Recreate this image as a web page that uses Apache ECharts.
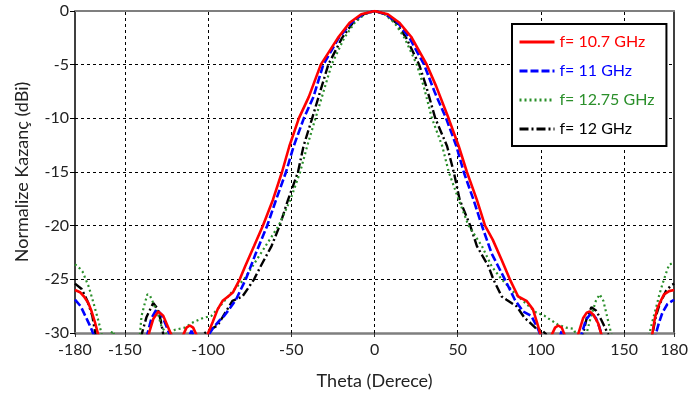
<!DOCTYPE html>
<html>
<head>
<meta charset="utf-8">
<script src="https://cdn.jsdelivr.net/npm/echarts@6/dist/echarts.min.js"></script>
<style>
  html, body { margin: 0; padding: 0; background: #fff; }
  #chart { width: 691px; height: 400px; }
</style>
</head>
<body>
<div id="chart"></div>
<script>
// Normalised gain patterns (dBi) versus theta (degrees) for four frequencies.
// Values below the -30 dB floor dip under the plot and are clipped.
const seriesNames = ['f= 10.7 GHz', 'f= 11 GHz', 'f= 12.75 GHz', 'f= 12 GHz'];

const thetaA = [-180, -177, -174.6, -172, -170, -168, -166, -163, -139, -135.5, -133, -130, -127, -124.5, -122, -119, -117, -115, -113, -111, -109, -107, -105, -102,
  -100, -97.3, -94.3, -91.3, -88, -85, -81, -77.8, -72.4, -67.1, -61.1, -55.6, -51.2, -45.5, -39.5, -32.3, -22, -15, -8, 0,
  8, 15, 22, 31.4, 37, 44.5, 50.6, 55.5, 61.5, 66.4, 71, 76.4, 81.3, 86.3, 91.3, 95.2, 97.6, 99.5, 102, 104, 106.4, 108.5, 110.4, 112.5, 114.3, 117,
  120, 122.4, 125.4, 127.5, 129.3, 131.5, 134.4, 136.4, 139, 164, 167, 168.5, 170, 172, 174, 177, 180];
const gainA = [-26.0, -26.2, -26.6, -27.2, -28.0, -29.0, -30.2, -33, -33, -30.0, -28.7, -28.0, -28.4, -29.3, -30.2, -33, -33, -30.2, -29.5, -29.3, -29.5, -30.2, -33, -33,
  -30, -29.0, -27.8, -27.0, -26.6, -26.2, -25.0, -23.8, -21.9, -20.0, -17.6, -15.0, -12.6, -10.0, -8.0, -5.0, -2.5, -1.1, -0.3, 0,
  -0.3, -1.1, -2.4, -5.0, -7.0, -10.0, -12.6, -15.0, -17.6, -20.0, -21.3, -23.2, -25.0, -26.6, -27.0, -27.8, -29.0, -30.0, -33, -33, -30.2, -29.5, -29.3, -29.5, -30.2, -33,
  -33, -30.1, -28.6, -28.1, -28.0, -28.3, -29.1, -30.2, -33, -33, -30.0, -28.6, -27.7, -27.0, -26.4, -26.1, -26.0];

const thetaB = [-180, -176.6, -172.6, -170.5, -168.7, -166, -139, -136.5, -134, -131, -128, -125.5, -123, -120, -114, -112, -110, -108, -105, -101,
  -99, -97.3, -93, -90.3, -86.5, -83.3, -77.4, -71.4, -64.5, -59.2, -53.2, -48.6, -42.5, -36.7, -30.8, -21.5, -14, -7, 0,
  7, 14, 21, 29.8, 36, 43, 49.2, 53.6, 59.5, 64.5, 70.4, 78.3, 84.3, 89.3, 94.2, 98.2, 100, 102, 109, 111, 112.5, 114, 117,
  122, 124.4, 127, 130.3, 133, 135, 136.4, 139, 166, 169, 171, 173, 176, 180];
const gainB = [-26.9, -27.5, -28.8, -29.5, -30.2, -33, -33, -30.1, -28.6, -27.8, -28.3, -29.2, -30.2, -33, -33, -30.5, -29.8, -30.5, -33, -33,
  -30, -29.6, -28.8, -28.4, -27.6, -26.9, -25.0, -22.6, -20.0, -17.6, -15.0, -12.6, -10.0, -8.0, -5.0, -2.5, -1.1, -0.3, 0,
  -0.3, -1.1, -2.5, -5.0, -7.5, -10.0, -12.6, -15.0, -17.6, -20.0, -22.6, -25.0, -26.9, -28.0, -28.4, -29.6, -30.3, -33, -33, -30.5, -29.8, -30.5, -33,
  -33, -30.1, -28.8, -28.1, -28.6, -29.4, -30.1, -33, -33, -30.1, -29.0, -28.1, -27.3, -26.9];

const thetaC = [-180, -177, -175.4, -171.7, -168.7, -165.7, -164, -162, -159, -157.5, -156, -153, -143, -141, -140, -138, -136.5, -135, -133, -130, -128, -125, -122, -120, -114, -109, -103,
  -98, -92.3, -85.3, -78.4, -73.4, -65.5, -57.6, -50.6, -44.7, -40.5, -35.5, -25.8, -18.2, -12, -6, 0,
  6, 12, 18, 25.4, 29.5, 34.5, 40.7, 44.6, 50.6, 56.5, 64.5, 70.4, 76.4, 84.3, 91.3, 97.2, 102.2, 105, 110, 115, 119.5, 121, 124,
  127.3, 130, 133, 135.3, 137.5, 139.5, 141, 142.3, 145, 162, 165.1, 167, 169.1, 171, 173.1, 175, 177.1, 180];
const gainC = [-23.6, -24.0, -24.3, -25.7, -27.3, -29.0, -30.1, -33, -30.3, -29.8, -30.3, -33, -33, -30.1, -28.4, -27.2, -26.4, -26.5, -27.2, -28.3, -29.4, -30.1, -30.0, -29.7, -29.5, -29.0, -28.6,
  -28.4, -27.4, -26.1, -25.0, -23.8, -21.9, -20.0, -17.6, -15.0, -12.6, -10.0, -5.0, -2.5, -1.1, -0.3, 0,
  -0.3, -1.1, -2.5, -5.0, -7.0, -10.0, -12.6, -15.0, -17.6, -20.0, -21.9, -23.8, -25.0, -26.3, -27.3, -28.1, -28.4, -28.7, -29.2, -29.5, -29.6, -30.1, -33,
  -30.1, -28.5, -27.0, -26.4, -27.0, -28.3, -29.3, -30.1, -33, -33, -30.1, -28.9, -27.7, -26.5, -25.4, -24.5, -23.6, -23.5];

const thetaD = [-180, -176, -172.6, -169.6, -167.7, -165, -142, -139.9, -137, -133, -130.5, -128.5, -127, -124, -106,
  -103, -99, -94.3, -89.7, -85.4, -79.4, -75, -72.4, -68.5, -61.9, -57, -52, -46, -42.7, -37.5, -27.8, -19.5, -13, -6.5, 0,
  6.5, 13, 19, 26.8, 31, 36.5, 43.6, 47.6, 51.2, 57.5, 61.5, 68.5, 71.4, 76.4, 79.3, 85.3, 90.2, 93.2, 97.2, 101, 103, 106,
  122, 125.3, 127.5, 130.3, 133, 136, 138.5, 140.3, 143, 164, 167, 169, 171.1, 175.1, 178, 180];
const gainD = [-25.4, -25.9, -27.0, -28.4, -30.1, -33, -33, -30.1, -28.5, -27.2, -27.7, -28.8, -30.1, -33, -33,
  -30.1, -29.7, -29.3, -28.1, -27.0, -26.6, -25.6, -25.0, -23.8, -21.9, -20.0, -17.6, -15.0, -12.6, -10.0, -5.0, -2.5, -1.1, -0.3, 0,
  -0.3, -1.1, -2.5, -5.0, -7.0, -10.0, -12.6, -15.0, -17.6, -20.0, -21.9, -23.8, -25.0, -26.6, -26.9, -27.5, -28.6, -29.0, -29.6, -29.8, -30.1, -33,
  -33, -30.1, -28.6, -27.6, -27.9, -28.7, -29.5, -30.1, -33, -33, -30.1, -28.5, -27.4, -26.1, -25.6, -25.4];

const xTicks = [-180, -150, -100, -50, 0, 50, 100, 150, 180];
const xGrid = [-150, -100, -50, 0, 50, 100, 150];
const yTicks = [0, -5, -10, -15, -20, -25, -30];

const colors = ['#ff0000', '#0000ff', '#2a8f2a', '#000000'];
const dashes = ['solid', [8, 3], [2, 3], [9, 3, 2, 3]];
const widths = [2.6, 2.6, 2.2, 2.4];
const thetas = [thetaA, thetaB, thetaC, thetaD];
const gains = [gainA, gainB, gainC, gainD];

const FONT = 'Lato';

const chart = echarts.init(document.getElementById('chart'), null, { renderer: 'canvas' });

const series = seriesNames.map((name, i) => ({
  name,
  type: 'line',
  data: thetas[i].map((t, k) => [t, gains[i][k]]),
  symbol: 'none',
  clip: true,
  lineStyle: { color: colors[i], width: widths[i], type: dashes[i] },
  itemStyle: { color: colors[i] },
  z: 10 - i
}));

// vertical dashed grid at every 50 degrees, carried by the first series
series[0].markLine = {
  silent: true,
  symbol: 'none',
  label: { show: false },
  z: 1,
  lineStyle: { color: '#000', type: [3, 3], width: 1 },
  data: xGrid.map(v => ({ xAxis: v }))
};

chart.setOption({
  animation: false,
  backgroundColor: '#ffffff',
  grid: { left: 75, right: 13, top: 11, bottom: 67, containLabel: false },
  legend: {
    orient: 'vertical',
    left: 512,
    top: 24,
    width: 156,
    padding: [10, 12, 9, 6],
    itemWidth: 35,
    itemHeight: 14,
    itemGap: 13,
    itemStyle: { opacity: 0 },
    lineStyle: { width: 3 },
    borderColor: '#000',
    borderWidth: 2,
    backgroundColor: '#fff',
    textStyle: { fontFamily: FONT, fontSize: 16 },
    data: seriesNames.map((n, i) => ({ name: n, textStyle: { color: colors[i] } }))
  },
  xAxis: [{
    type: 'value',
    min: -180,
    max: 180,
    name: 'Theta (Derece)',
    nameLocation: 'middle',
    nameGap: 39,
    nameTextStyle: { fontFamily: FONT, fontSize: 18, color: '#222' },
    axisLine: { show: true, onZero: false, lineStyle: { color: '#7f7f7f', width: 2.5 } },
    axisTick: { show: true, inside: false, length: 4, lineStyle: { color: '#333' }, customValues: xTicks },
    axisLabel: {
      fontFamily: FONT, fontSize: 16, color: '#222', margin: 9,
      customValues: xTicks
    },
    splitLine: { show: false }
  }, {
    type: 'value',
    position: 'top',
    min: -180,
    max: 180,
    axisLine: { show: true, onZero: false, lineStyle: { color: '#7f7f7f', width: 2 } },
    axisTick: { show: false },
    axisLabel: { show: false },
    splitLine: { show: false }
  }],
  yAxis: [{
    type: 'value',
    min: -30,
    max: 0,
    interval: 5,
    name: 'Normalize Kazanç (dBi)',
    nameLocation: 'middle',
    nameGap: 44,
    nameTextStyle: { fontFamily: FONT, fontSize: 18, color: '#222' },
    axisLine: { show: true, onZero: false, lineStyle: { color: '#000', width: 1.5 } },
    axisTick: { show: true, length: 5, lineStyle: { color: '#000' } },
    axisLabel: { fontFamily: FONT, fontSize: 16, color: '#222', margin: 6, customValues: yTicks },
    splitLine: { show: true, lineStyle: { color: '#000', type: [3, 3], width: 1 } }
  }, {
    type: 'value',
    position: 'right',
    min: -30,
    max: 0,
    axisLine: { show: true, onZero: false, lineStyle: { color: '#000', width: 1.5 } },
    axisTick: { show: false },
    axisLabel: { show: false },
    splitLine: { show: false }
  }],
  series
});
</script>
</body>
</html>
